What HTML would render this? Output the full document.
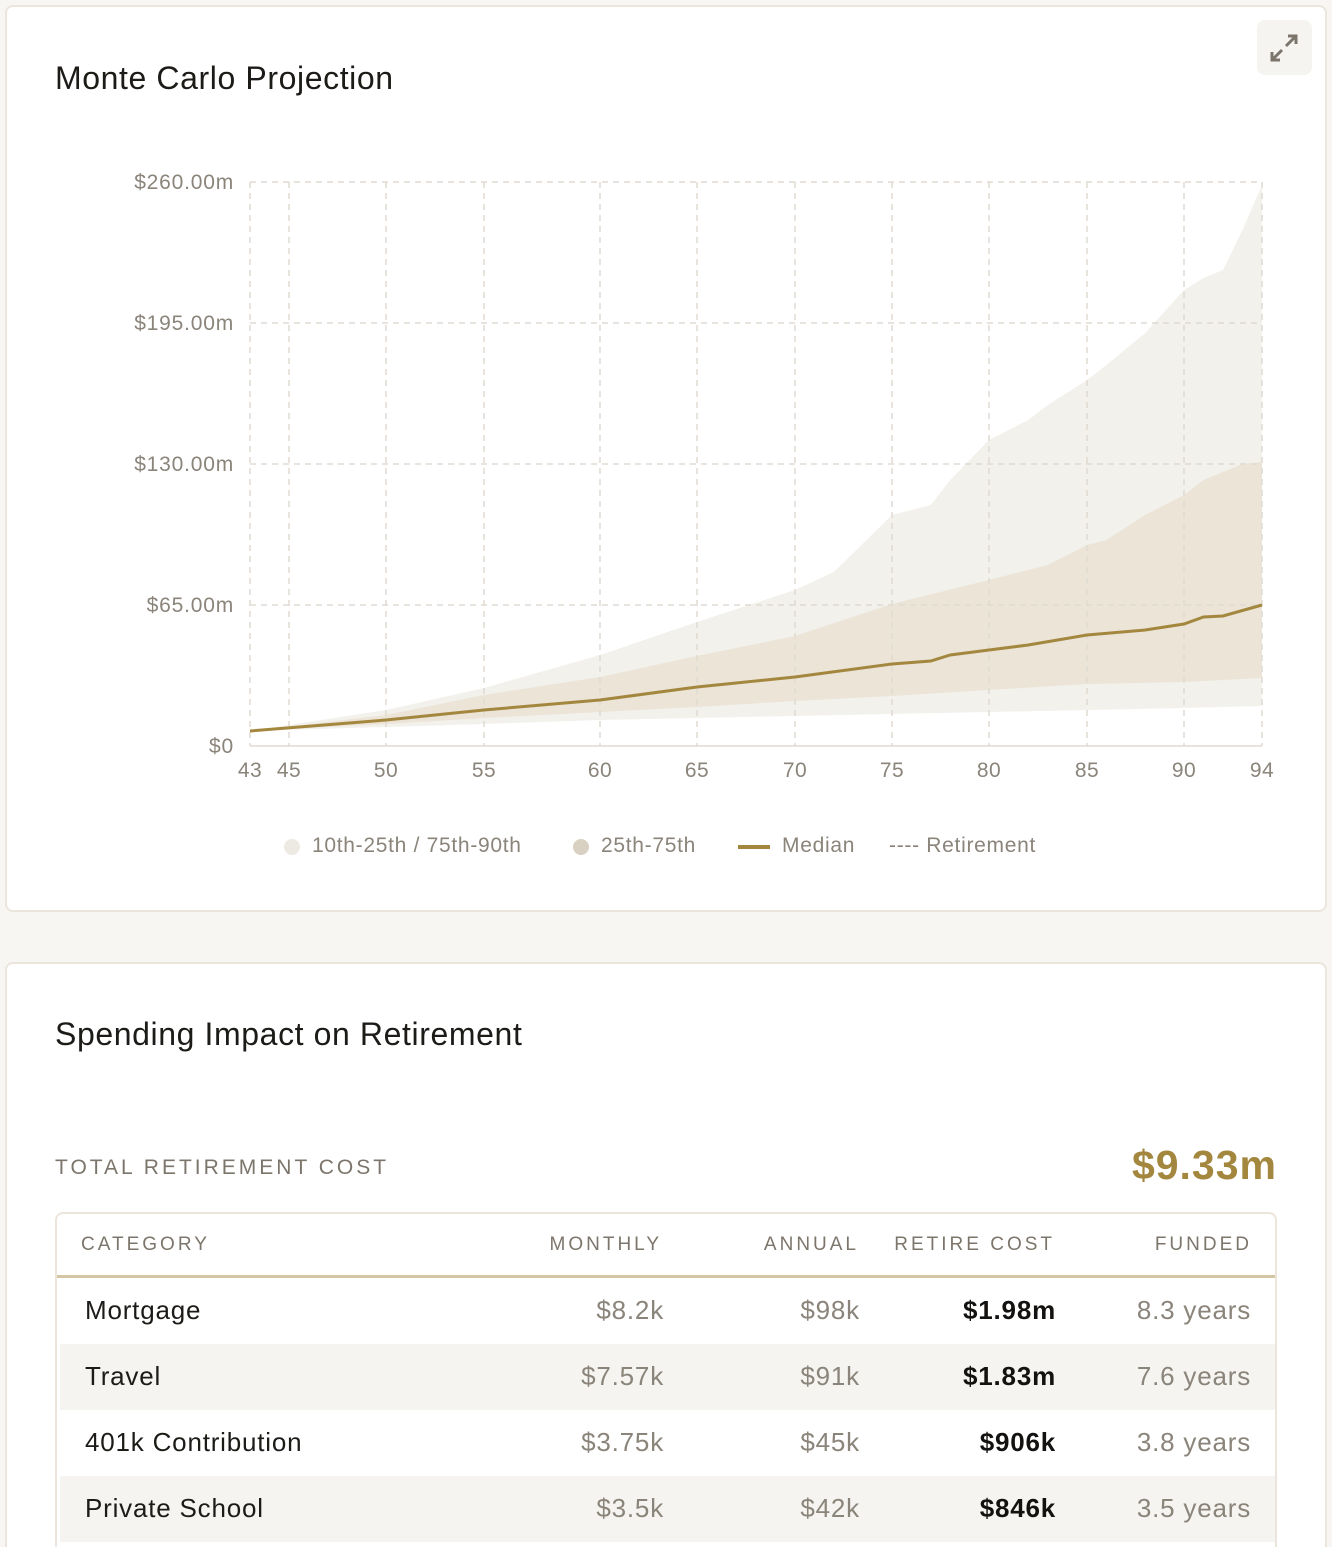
<!DOCTYPE html>
<html><head><meta charset="utf-8"><style>
*{margin:0;padding:0;box-sizing:border-box}
html,body{width:1332px;height:1547px;overflow:hidden}
body{background:#f8f6f2;font-family:"Liberation Sans",sans-serif}
#w{position:relative;width:1332px;height:1547px;overflow:hidden}
.card{position:absolute;background:#fff;border:2px solid #ebe5dc;border-radius:8px}
.t{position:absolute;white-space:nowrap}
.h{font-size:32px;color:#1d1b18;letter-spacing:0.6px}
.th{font-size:19px;letter-spacing:3px;color:#7c756b;top:1234px}
.row{position:absolute;left:60px;width:1215px;height:66px}
.c{position:absolute;font-size:26px;white-space:nowrap;letter-spacing:0.8px}
.cat{left:85px;color:#1d1b18}
.num{color:#8a847a;text-align:right}
.b{color:#141210;font-weight:bold;text-align:right}
.lg{font-size:21px;color:#8a847a;letter-spacing:0.7px}
</style></head><body><div id="w">
<div class="card" style="left:5px;top:5px;width:1322px;height:907px"></div>
<div class="t h" style="left:55px;top:60px">Monte Carlo Projection</div>
<div style="position:absolute;left:1257px;top:20px;width:55px;height:55px;background:#f6f4f0;border-radius:8px"></div>
<svg style="position:absolute;left:1268px;top:32px" width="32" height="32" viewBox="0 0 32 32"><g stroke="#7c756b" stroke-width="3" fill="none"><path d="M18 14 L28 4 M20 4 H28 V12 M14 18 L4 28 M4 20 V28 H12"/></g></svg>
<svg id="ch" style="position:absolute;left:0;top:0" width="1332" height="900"></svg>
<div style="position:absolute;left:284px;top:839px;width:16px;height:16px;border-radius:50%;background:#edeae3"></div>
<div class="t lg" style="left:312px;top:834px">10th-25th / 75th-90th</div>
<div style="position:absolute;left:573px;top:839px;width:16px;height:16px;border-radius:50%;background:#d8d1c2"></div>
<div class="t lg" style="left:601px;top:834px">25th-75th</div>
<div style="position:absolute;left:738px;top:845px;width:32px;height:4px;background:#a4873f"></div>
<div class="t lg" style="left:782px;top:834px">Median</div>
<div class="t lg" style="left:889px;top:834px">---- Retirement</div>

<div class="card" style="left:5px;top:962px;width:1322px;height:620px"></div>
<div class="t h" style="left:55px;top:1016px">Spending Impact on Retirement</div>
<div class="t" style="left:55px;top:1156px;font-size:21px;letter-spacing:3px;color:#7c756b">TOTAL RETIREMENT COST</div>
<div class="t" style="right:55px;top:1142px;font-size:41px;font-weight:bold;color:#a4873f;letter-spacing:1px">$9.33m</div>
<div style="position:absolute;left:55px;top:1212px;width:1222px;height:400px;border:2px solid #ebe5dc;border-radius:8px;background:#fff"></div>
<div style="position:absolute;left:57px;top:1275px;width:1218px;height:3px;background:#d5c6a3"></div>
<div class="t th" style="left:81px">CATEGORY</div>
<div class="t th" style="right:670px">MONTHLY</div>
<div class="t th" style="right:473px">ANNUAL</div>
<div class="t th" style="right:277px">RETIRE COST</div>
<div class="t th" style="right:80px">FUNDED</div>
<div class="row" style="top:1278px;background:#fff"></div>
<div class="row" style="top:1344px;background:#f6f4f0"></div>
<div class="row" style="top:1410px;background:#fff"></div>
<div class="row" style="top:1476px;background:#f6f4f0"></div>
<div id="rows"></div>
</div>
<script>
var rows=[["Mortgage","$8.2k","$98k","$1.98m","8.3 years"],["Travel","$7.57k","$91k","$1.83m","7.6 years"],["401k Contribution","$3.75k","$45k","$906k","3.8 years"],["Private School","$3.5k","$42k","$846k","3.5 years"]];
var h="";rows.forEach(function(r,i){var y=1295+i*66;
h+='<div class="c cat" style="top:'+y+'px">'+r[0]+'</div>';
h+='<div class="c num" style="right:668px;top:'+y+'px">'+r[1]+'</div>';
h+='<div class="c num" style="right:472px;top:'+y+'px">'+r[2]+'</div>';
h+='<div class="c b" style="right:276px;top:'+y+'px">'+r[3]+'</div>';
h+='<div class="c num" style="right:81px;top:'+y+'px">'+r[4]+'</div>';});
document.getElementById("rows").innerHTML=h;
var ta=[43,45,50,55,60,65,70,75,80,85,90,94],tx=[250,289,386,484,600,697,795,892,989,1087,1184,1262];
function X(a){for(var i=0;i<ta.length-1;i++){if(a<=ta[i+1])return tx[i]+(a-ta[i])/(ta[i+1]-ta[i])*(tx[i+1]-tx[i]);}return 1262;}
function pts(o){var k=Object.keys(o).map(Number).sort(function(a,b){return a-b});return k.map(function(a){return [X(a),o[a]]});}
var p90=pts({43:731,50:710,55:688,60:655,65:622,70:590,72:572,75:515,77:505,78:480,80:440,82:420,83:405,85:380,86:365,88:333,90:290,91:278,92:270,93:230,94:185});
var p75=pts({43:731,50:715,55:695,60:677,65:656,70:636,75:604,80:580,83:565,85:545,86:540,88:515,90:495,91:480,93:464,94:462});
var p50=pts({43:731,50:720,55:710,60:700,65:687,70:677,75:664,77:661,78:655,80:650,82:645,85:635,88:630,90:624,91:617,92:616,94:605});
var p25=pts({43:731,50:724,55:718,60:712,65:707,70:701,75:696,80:690,85:684,90:682,94:678});
var p10=pts({43:731,50:727,55:724,60:720,70:716,80:712,90:708,94:706});
function line(p){return p.map(function(q,i){return (i?"L":"M")+q[0].toFixed(1)+" "+q[1]}).join(" ");}
function band(a,b){return line(a)+" "+b.slice().reverse().map(function(q){return "L"+q[0].toFixed(1)+" "+q[1]}).join(" ")+"Z";}
var s="";
s+='<path d="'+band(p90,p10)+'" fill="#f3f1ec"/>';
s+='<path d="'+band(p75,p25)+'" fill="#ebe4d7"/>';
var g='stroke="#e0dbd2" stroke-width="1.5" stroke-dasharray="6 5" fill="none"';
[182,323,464,605].forEach(function(y){s+='<line x1="250" x2="1262" y1="'+y+'" y2="'+y+'" '+g+'/>';});
tx.forEach(function(x){s+='<line x1="'+x+'" x2="'+x+'" y1="182" y2="746" '+g+'/>';});
s+='<line x1="250" x2="1262" y1="746" y2="746" stroke="#e0dbd2" stroke-width="1.5"/>';
s+='<path d="'+line(p50)+'" stroke="#a4873f" stroke-width="3" fill="none"/>';
var yl=[["$260.00m",182],["$195.00m",323],["$130.00m",464],["$65.00m",605],["$0",746]];
yl.forEach(function(l){s+='<text x="234" y="'+(l[1]+7)+'" text-anchor="end" font-size="21" letter-spacing="0.8" fill="#8a847a" font-family="Liberation Sans">'+l[0]+'</text>';});
ta.forEach(function(a,i){s+='<text x="'+tx[i]+'" y="777" text-anchor="middle" font-size="21" letter-spacing="0.5" fill="#8a847a" font-family="Liberation Sans">'+a+'</text>';});
document.getElementById("ch").innerHTML=s;
</script>
</body></html>
